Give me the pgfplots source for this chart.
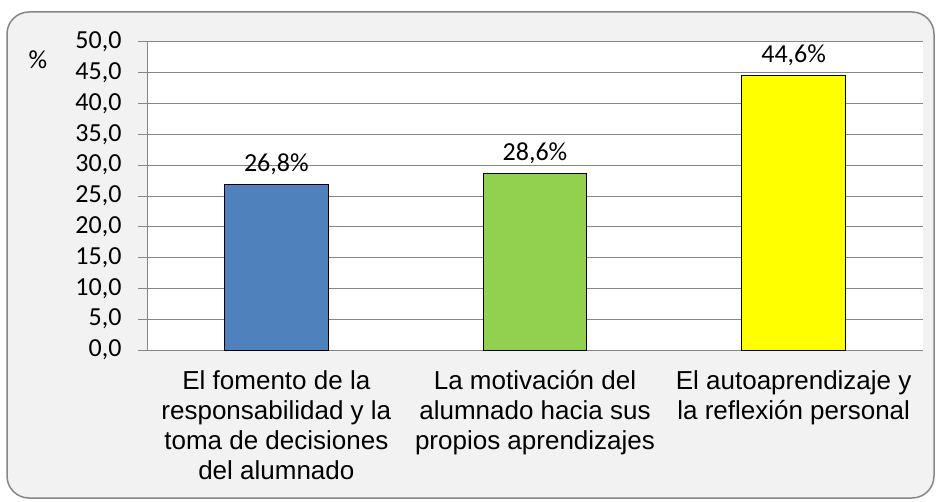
\documentclass[border=0pt]{standalone}
\usepackage{pgfplots}
\pgfplotsset{compat=1.18}
\usepackage{fontspec}
\setmainfont{Liberation Sans}
\newfontfamily\carlito{Carlito}
\definecolor{bgc}{HTML}{F2F2F2}
\definecolor{frm}{HTML}{868686}
\definecolor{gridc}{HTML}{868686}
\definecolor{cblue}{HTML}{4F81BD}
\definecolor{cgreen}{HTML}{92D050}
\definecolor{cyellow}{HTML}{FFFF00}
\begin{document}
\begin{tikzpicture}[x=1pt,y=1pt]
\path[use as bounding box] (0,0) rectangle (941,501);
\filldraw[fill=bgc,draw=frm,line width=1.5pt,rounded corners=22pt] (7,3) rectangle (934,489);
\node[font=\carlito\fontsize{26}{30}\selectfont] at (38,441) {\%};
\begin{axis}[
  at={(147pt,151pt)}, anchor=south west,
  width=776pt, height=308pt, scale only axis,
  axis background/.style={fill=white},
  ymin=0, ymax=50, ytick distance=5,
  xmin=0.5, xmax=3.5,
  axis x line*=bottom, axis y line*=left,
  axis line style={gridc, line width=1pt},
  ymajorgrids, grid style={gridc, line width=1pt},
  tick align=outside,
  y tick style={gridc, line width=1pt}, major tick length=9pt,
  xtick={1,2,3},
  x tick style={draw=none},
  minor xtick={0.5,1.5,2.5,3.5},
  minor x tick style={gridc, line width=1pt},
  minor tick length=7pt,
  xticklabels={{El fomento de la\\responsabilidad y la\\toma de decisiones\\del alumnado},
               {La motivaci\'on del\\alumnado hacia sus\\propios aprendizajes},
               {El autoaprendizaje y\\la reflexi\'on personal}},
  xticklabel style={align=center, font=\fontsize{26}{30}\selectfont, yshift=-8pt},
  yticklabel style={font=\carlito\fontsize{26}{30}\selectfont, xshift=-13pt},
  /pgf/number format/.cd, fixed, fixed zerofill, precision=1, use comma, assume math mode=true,
  /pgfplots/.cd,
  ybar, bar width=0.4, bar shift=0pt,
  nodes near coords={\pgfmathprintnumber[fixed,fixed zerofill,precision=1,use comma,assume math mode=true]{\pgfplotspointmeta}\%},
  nodes near coords style={font=\carlito\fontsize{26}{30}\selectfont, black, anchor=south, yshift=6pt},
]
\addplot[fill=cblue, draw=black, line width=1pt] coordinates {(1,26.8)};
\addplot[fill=cgreen, draw=black, line width=1pt] coordinates {(2,28.6)};
\addplot[fill=cyellow, draw=black, line width=1pt] coordinates {(3,44.6)};
\end{axis}
\end{tikzpicture}
\end{document}
